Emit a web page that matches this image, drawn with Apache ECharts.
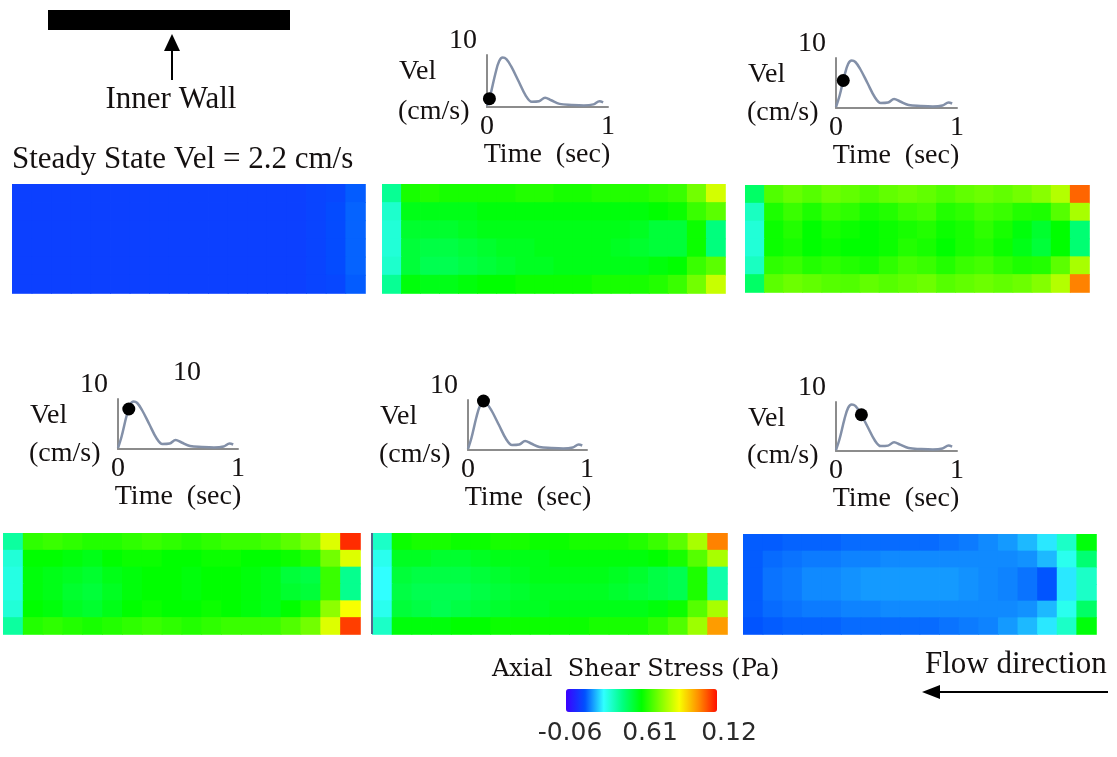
<!DOCTYPE html>
<html>
<head>
<meta charset="utf-8">
<title>Axial shear stress</title>
<script src="https://cdn.jsdelivr.net/npm/echarts@6/dist/echarts.min.js"></script>
<style>
    html, body { margin: 0; padding: 0; background: #fff; }
    #main { width: 1117px; height: 757px; }
</style>
</head>
<body>
<div id="main"></div>
<script>
// shear stress range of the colour bar (Pa)
var stressMin = -0.06;
var stressMax = 0.12;
var stressColors = ['#3c00ff', '#0050ff', '#30ffff', '#00ff80', '#00ff00', '#80ff00', '#f8ff00', '#ff9000', '#ff1000'];
var barLabels = ['-0.06', '0.61', '0.12'];

// velocity waveform (same for every small plot)
var velTime  = [0, 0.03, 0.07, 0.10, 0.13, 0.16, 0.20, 0.26, 0.32, 0.37, 0.43, 0.48, 0.53, 0.60, 0.70, 0.80, 0.88, 0.93, 0.96];
var velValue = [0.2, 2.5, 6.5, 8.8, 9.5, 9.2, 7.8, 5.0, 2.2, 1.0, 1.1, 1.8, 1.3, 0.6, 0.4, 0.3, 0.5, 1.1, 0.9];
var velTickX = [0, 1];
var velTickY = [10];

// moment of the cycle marked on each plot (panels 2..6)
var dotTime  = [0.02, 0.06, 0.09, 0.13, 0.21];
var dotValue = [1.6, 5.5, 8.0, 9.8, 7.4];

// axial shear stress maps, 6 rows (top -> bottom) x 18 columns (left -> right)
var panel1 = [
    [-0.042, -0.042, -0.042, -0.042, -0.042, -0.042, -0.042, -0.042, -0.042, -0.042, -0.042, -0.042, -0.042, -0.042, -0.042, -0.041, -0.040, -0.036],
    [-0.042, -0.042, -0.042, -0.042, -0.042, -0.042, -0.042, -0.042, -0.042, -0.042, -0.042, -0.042, -0.042, -0.042, -0.042, -0.041, -0.039, -0.035],
    [-0.042, -0.042, -0.042, -0.042, -0.042, -0.042, -0.042, -0.042, -0.042, -0.042, -0.042, -0.042, -0.042, -0.042, -0.042, -0.041, -0.039, -0.035],
    [-0.042, -0.042, -0.042, -0.042, -0.042, -0.042, -0.042, -0.042, -0.042, -0.042, -0.042, -0.042, -0.042, -0.042, -0.042, -0.041, -0.039, -0.035],
    [-0.042, -0.042, -0.042, -0.042, -0.042, -0.042, -0.042, -0.042, -0.042, -0.042, -0.042, -0.042, -0.042, -0.042, -0.042, -0.041, -0.039, -0.035],
    [-0.042, -0.042, -0.042, -0.042, -0.042, -0.042, -0.042, -0.042, -0.042, -0.042, -0.042, -0.042, -0.042, -0.042, -0.042, -0.041, -0.040, -0.036]
];
var panel2 = [
    [0.004, 0.034, 0.036, 0.034, 0.034, 0.034, 0.034, 0.036, 0.036, 0.034, 0.034, 0.036, 0.036, 0.036, 0.038, 0.040, 0.050, 0.068],
    [-0.006, 0.026, 0.026, 0.026, 0.026, 0.028, 0.028, 0.028, 0.028, 0.028, 0.028, 0.028, 0.028, 0.028, 0.030, 0.032, 0.040, 0.046],
    [-0.008, 0.022, 0.022, 0.022, 0.024, 0.026, 0.026, 0.026, 0.026, 0.026, 0.026, 0.026, 0.026, 0.024, 0.020, 0.020, 0.032, 0.008],
    [-0.008, 0.020, 0.018, 0.018, 0.020, 0.022, 0.024, 0.024, 0.026, 0.026, 0.026, 0.026, 0.024, 0.022, 0.020, 0.020, 0.032, 0.008],
    [-0.006, 0.020, 0.016, 0.016, 0.018, 0.020, 0.022, 0.024, 0.024, 0.026, 0.026, 0.026, 0.026, 0.026, 0.028, 0.030, 0.040, 0.046],
    [0.004, 0.028, 0.026, 0.026, 0.028, 0.030, 0.030, 0.032, 0.032, 0.032, 0.032, 0.034, 0.034, 0.034, 0.036, 0.040, 0.050, 0.066]
];
var panel3 = [
    [0.012, 0.044, 0.048, 0.045, 0.049, 0.047, 0.044, 0.047, 0.049, 0.047, 0.044, 0.047, 0.049, 0.047, 0.050, 0.054, 0.062, 0.105],
    [-0.004, 0.035, 0.040, 0.035, 0.040, 0.038, 0.034, 0.036, 0.040, 0.042, 0.036, 0.038, 0.042, 0.040, 0.036, 0.035, 0.045, 0.060],
    [-0.008, 0.032, 0.036, 0.030, 0.034, 0.032, 0.030, 0.032, 0.034, 0.036, 0.032, 0.034, 0.038, 0.034, 0.028, 0.022, 0.030, 0.010],
    [-0.008, 0.032, 0.034, 0.030, 0.032, 0.030, 0.030, 0.032, 0.036, 0.034, 0.030, 0.034, 0.036, 0.032, 0.026, 0.020, 0.030, 0.010],
    [-0.004, 0.038, 0.040, 0.036, 0.038, 0.036, 0.034, 0.038, 0.042, 0.040, 0.036, 0.040, 0.042, 0.038, 0.035, 0.036, 0.046, 0.060],
    [0.012, 0.046, 0.049, 0.047, 0.045, 0.044, 0.047, 0.045, 0.047, 0.049, 0.045, 0.047, 0.049, 0.047, 0.049, 0.053, 0.062, 0.100]
];
var panel4 = [
    [0.002, 0.038, 0.040, 0.038, 0.036, 0.036, 0.038, 0.040, 0.038, 0.036, 0.038, 0.040, 0.040, 0.042, 0.046, 0.052, 0.070, 0.115],
    [-0.008, 0.030, 0.030, 0.028, 0.026, 0.030, 0.032, 0.032, 0.030, 0.030, 0.032, 0.032, 0.030, 0.030, 0.032, 0.036, 0.050, 0.070],
    [-0.010, 0.028, 0.026, 0.024, 0.022, 0.026, 0.028, 0.030, 0.030, 0.028, 0.030, 0.030, 0.028, 0.026, 0.020, 0.018, 0.040, 0.005],
    [-0.010, 0.028, 0.026, 0.022, 0.020, 0.024, 0.028, 0.030, 0.030, 0.028, 0.030, 0.030, 0.028, 0.026, 0.022, 0.020, 0.040, 0.005],
    [-0.008, 0.030, 0.028, 0.024, 0.022, 0.026, 0.030, 0.032, 0.030, 0.030, 0.032, 0.030, 0.028, 0.026, 0.030, 0.036, 0.055, 0.075],
    [0.002, 0.036, 0.038, 0.036, 0.034, 0.036, 0.038, 0.040, 0.038, 0.036, 0.038, 0.040, 0.040, 0.040, 0.044, 0.050, 0.070, 0.112]
];
var panel5 = [
    [-0.005, 0.032, 0.034, 0.034, 0.032, 0.032, 0.034, 0.034, 0.032, 0.032, 0.034, 0.034, 0.034, 0.036, 0.040, 0.046, 0.060, 0.100],
    [-0.012, 0.024, 0.024, 0.022, 0.022, 0.024, 0.026, 0.026, 0.026, 0.028, 0.028, 0.028, 0.028, 0.028, 0.030, 0.034, 0.045, 0.060],
    [-0.015, 0.020, 0.018, 0.018, 0.018, 0.020, 0.022, 0.024, 0.026, 0.026, 0.026, 0.026, 0.024, 0.022, 0.018, 0.016, 0.035, 0.000],
    [-0.015, 0.018, 0.016, 0.016, 0.016, 0.018, 0.020, 0.022, 0.024, 0.024, 0.024, 0.024, 0.022, 0.020, 0.018, 0.016, 0.035, 0.000],
    [-0.012, 0.020, 0.018, 0.016, 0.018, 0.020, 0.022, 0.024, 0.024, 0.026, 0.026, 0.026, 0.026, 0.026, 0.028, 0.032, 0.045, 0.060],
    [-0.005, 0.028, 0.028, 0.028, 0.030, 0.030, 0.032, 0.032, 0.032, 0.032, 0.032, 0.034, 0.034, 0.034, 0.038, 0.044, 0.058, 0.095]
];
var panel6 = [
    [-0.036, -0.036, -0.035, -0.035, -0.035, -0.034, -0.034, -0.034, -0.034, -0.034, -0.033, -0.032, -0.030, -0.028, -0.024, -0.018, -0.005, 0.028],
    [-0.036, -0.034, -0.033, -0.032, -0.032, -0.031, -0.031, -0.030, -0.030, -0.030, -0.030, -0.030, -0.030, -0.030, -0.029, -0.024, -0.012, 0.010],
    [-0.036, -0.033, -0.032, -0.030, -0.030, -0.029, -0.028, -0.028, -0.028, -0.028, -0.028, -0.029, -0.030, -0.031, -0.033, -0.037, -0.018, -0.005],
    [-0.036, -0.033, -0.032, -0.030, -0.030, -0.029, -0.028, -0.028, -0.028, -0.028, -0.028, -0.029, -0.030, -0.031, -0.033, -0.037, -0.018, -0.005],
    [-0.036, -0.034, -0.033, -0.032, -0.032, -0.031, -0.031, -0.030, -0.030, -0.030, -0.030, -0.030, -0.030, -0.030, -0.029, -0.024, -0.012, 0.012],
    [-0.037, -0.036, -0.035, -0.035, -0.035, -0.034, -0.034, -0.034, -0.034, -0.034, -0.033, -0.032, -0.031, -0.028, -0.024, -0.018, -0.005, 0.028]
];
var panels = [panel1, panel2, panel3, panel4, panel5, panel6];

// layout (px): [left, top, width, height]
var panelBoxes = [
    [12, 184, 353, 109],
    [382, 184, 343, 109],
    [745, 185, 344, 107],
    [3, 533, 357, 101],
    [372, 533, 355, 101],
    [743, 534, 353, 100]
];
var velBoxes = [
    [487, 55, 121, 52],
    [836, 58, 121, 50],
    [118, 399, 120, 50],
    [468, 400, 119, 50],
    [836, 402, 121, 49]
];

var serif = 'Liberation Serif, Times New Roman, serif';
var ink = '#141010';
var axisGray = '#8c8c8c';

var grids = [], xAxes = [], yAxes = [], series = [], graphics = [];

// one cell of a stress map, slightly oversized so neighbours leave no seam
function renderCell(params, api) {
    var p = api.coord([api.value(0), api.value(1)]);
    var s = api.size([1, 1]);
    return {
        type: 'rect',
        shape: {x: p[0] - s[0] / 2, y: p[1] - s[1] / 2, width: s[0] + 0.8, height: s[1] + 0.8},
        style: {fill: api.visual('color')}
    };
}

panels.forEach(function (rows, i) {
    var b = panelBoxes[i];
    var cols = rows[0].map(function (v, c) { return 'c' + c; });
    var rowNames = rows.map(function (r, k) { return 'r' + k; });
    var data = [];
    rows.forEach(function (row, r) {
        row.forEach(function (v, c) { data.push([c, r, v]); });
    });
    grids.push({left: b[0], top: b[1], width: b[2], height: b[3]});
    xAxes.push({type: 'category', gridIndex: i, data: cols, show: false});
    yAxes.push({type: 'category', gridIndex: i, data: rowNames, show: false, inverse: true});
    series.push({
        type: 'custom',
        xAxisIndex: i,
        yAxisIndex: i,
        data: data,
        encode: {x: 0, y: 1},
        renderItem: renderCell,
        silent: true
    });
});

function textEl(str, x, y, size, align, family) {
    return {
        type: 'text',
        x: x,
        y: y,
        style: {
            text: str,
            fill: ink,
            font: size + 'px ' + (family || serif),
            textAlign: align || 'left',
            textVerticalAlign: 'middle'
        }
    };
}

velBoxes.forEach(function (b, k) {
    var g = panels.length + k;
    var line = {show: true, onZero: false, lineStyle: {color: axisGray, width: 2}};
    grids.push({left: b[0], top: b[1], width: b[2], height: b[3]});
    xAxes.push({
        type: 'value', gridIndex: g, min: 0, max: 1, interval: 1,
        axisLine: line, axisTick: {show: false}, splitLine: {show: false},
        axisLabel: {
            showMinLabel: true, showMaxLabel: true, margin: 6,
            fontFamily: serif, fontSize: 28, color: ink,
            formatter: function (v) { return velTickX.indexOf(v) >= 0 ? String(v) : ''; }
        }
    });
    yAxes.push({
        type: 'value', gridIndex: g, min: 0, max: 10, interval: 10,
        axisLine: line, axisTick: {show: false}, splitLine: {show: false},
        axisLabel: {
            showMaxLabel: true, margin: 10, verticalAlign: 'bottom',
            fontFamily: serif, fontSize: 28, color: ink,
            formatter: function (v) { return velTickY.indexOf(v) >= 0 ? String(v) : ''; }
        }
    });
    series.push({
        type: 'line',
        xAxisIndex: g,
        yAxisIndex: g,
        data: velTime.map(function (t, j) { return [t, velValue[j]]; }),
        smooth: 0.35,
        showSymbol: false,
        lineStyle: {color: '#8390a8', width: 2.5},
        silent: true
    });
    series.push({
        type: 'scatter',
        xAxisIndex: g,
        yAxisIndex: g,
        data: [[dotTime[k], dotValue[k]]],
        symbolSize: 13,
        itemStyle: {color: '#000', opacity: 1},
        z: 5,
        silent: true
    });
    graphics.push(textEl('Vel', b[0] - 88, b[1] + 17, 28));
    graphics.push(textEl('(cm/s)', b[0] - 89, b[1] + b[3] + 5, 28));
    graphics.push(textEl('Time  (sec)', b[0] + 60, b[1] + b[3] + 48, 28, 'center'));
});

// stray "10" above the fourth panel's plot
graphics.push(textEl('10', 187, 373, 28, 'center'));

// dark left edge of the fifth map
graphics.push({type: 'rect', shape: {x: 371, y: 533, width: 2, height: 101}, style: {fill: '#55688c'}, z: 10});

// inner wall marker
graphics.push({type: 'rect', shape: {x: 48, y: 10, width: 242, height: 20}, style: {fill: '#000'}});
graphics.push({type: 'line', shape: {x1: 172, y1: 48, x2: 172, y2: 80}, style: {stroke: '#000', lineWidth: 2}});
graphics.push({type: 'polygon', shape: {points: [[172, 34], [164, 51], [180, 51]]}, style: {fill: '#000'}});
graphics.push(textEl('Inner Wall', 171, 100, 31, 'center'));
graphics.push(textEl('Steady State Vel = 2.2 cm/s', 12, 160, 31));

// flow direction
graphics.push(textEl('Flow direction', 925, 665, 31));
graphics.push({type: 'line', shape: {x1: 936, y1: 692, x2: 1108, y2: 692}, style: {stroke: '#000', lineWidth: 2}});
graphics.push({type: 'polygon', shape: {points: [[922, 692], [940, 685], [940, 699]]}, style: {fill: '#000'}});

// colour bar title and labels
graphics.push(textEl('Axial  Shear Stress (Pa)', 492, 670, 24, 'left', 'DejaVu Serif, serif'));
var barCenters = [570, 650, 729];
barLabels.forEach(function (s, i) {
    var t = textEl(s, barCenters[i], 733, 25, 'center', 'DejaVu Sans, sans-serif');
    t.style.fill = '#2a2a2a';
    graphics.push(t);
});

var chart = echarts.init(document.getElementById('main'));
chart.setOption({
    backgroundColor: '#fff',
    animation: false,
    grid: grids,
    xAxis: xAxes,
    yAxis: yAxes,
    visualMap: {
        type: 'continuous',
        min: stressMin,
        max: stressMax,
        dimension: 2,
        seriesIndex: [0, 1, 2, 3, 4, 5],
        orient: 'horizontal',
        left: 566,
        top: 689,
        itemWidth: 23,
        itemHeight: 151,
        padding: 0,
        calculable: false,
        hoverLink: false,
        inRange: {color: stressColors}
    },
    graphic: graphics,
    series: series
});
</script>
</body>
</html>
